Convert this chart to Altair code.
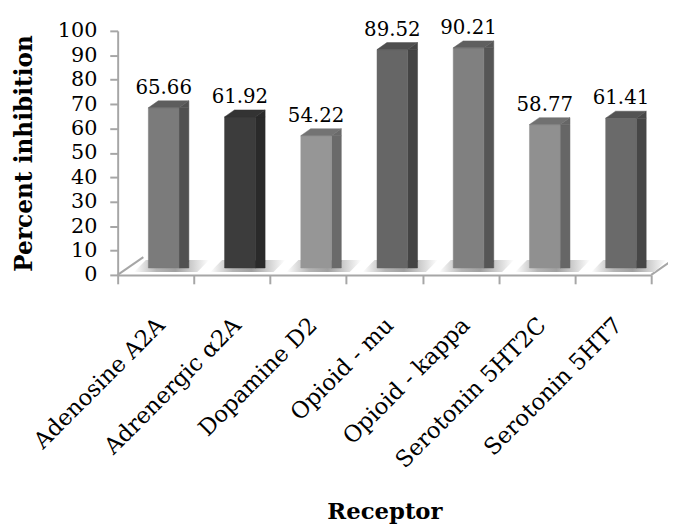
import altair as alt
import pandas as pd

receptors = ["Adenosine A2A", "Adrenergic α2A", "Dopamine D2", "Opioid - mu",
             "Opioid - kappa", "Serotonin 5HT2C", "Serotonin 5HT7"]
inhibition = [65.66, 61.92, 54.22, 89.52, 90.21, 58.77, 61.41]
y_ticks = [0, 10, 20, 30, 40, 50, 60, 70, 80, 90, 100]

front_colors = ["#7b7b7b", "#3c3c3c", "#969696", "#666666", "#808080", "#909090", "#6a6a6a"]
side_colors = ["#515151", "#2a2a2a", "#6a6a6a", "#444444", "#565656", "#666666", "#474747"]
top_colors = ["#5d5d5d", "#333333", "#737373", "#4f4f4f", "#5f5f5f", "#717171", "#535353"]

df = pd.DataFrame({"Receptor": receptors, "Inhibition": inhibition})

FONT = "DejaVu Serif"
AXIS_GRAY = "#a6a6a6"

x_axis = alt.Axis(
    title="Receptor", titleFont=FONT, titleFontSize=23, titleFontWeight="bold",
    titleColor="black", titleY=240, titleBaseline="middle",
    labelFont=FONT, labelFontSize=23, labelColor="black",
    labelAngle=315, labelAlign="right", labelBaseline="middle",
    labelPadding=38, labelOffset=5, labelOverlap=False, labelLimit=400,
    tickBand="extent", tickSize=9, tickWidth=2, tickColor=AXIS_GRAY,
    domainColor=AXIS_GRAY, domainWidth=2, grid=False,
)
y_axis = alt.Axis(
    title="Percent inhibition", titleFont=FONT, titleFontSize=23.5, titleFontWeight="bold",
    titleColor="black", titleAngle=270, titleX=-94, titleY=123.5,
    titleAlign="center", titleBaseline="middle",
    values=y_ticks, tickCount=11, labelFont=FONT, labelFontSize=21, labelColor="black",
    labelOverlap=False, labelPadding=13, tickSize=8, tickWidth=2, tickColor=AXIS_GRAY,
    domainColor=AXIS_GRAY, domainWidth=2, grid=False,
)
y_scale = alt.Scale(domain=[0, 100], nice=False, zero=True)

x_enc = alt.X("Receptor:N", sort=receptors,
              scale=alt.Scale(paddingInner=0, paddingOuter=0), axis=x_axis)
y_enc = alt.Y("Inhibition:Q", scale=y_scale, axis=y_axis)
y_zero = alt.YDatum(0, type="quantitative", scale=y_scale, axis=y_axis)
y2_zero = alt.Y2Datum(0)


def cscale(rng):
    return alt.Scale(domain=receptors, range=rng)


def paint(rng):
    return dict(
        fill=alt.Fill("Receptor:N", scale=cscale(rng), legend=None),
        stroke=alt.Stroke("Receptor:N", scale=cscale(rng), legend=None),
    )


base = alt.Chart(df)

shadow = base.mark_point(
    shape="M-22,-3L42,-3L54,-15L-10,-15Z", size=4, filled=True, opacity=1, strokeWidth=0,
    fill=alt.LinearGradient(
        gradient="linear", x1=0, x2=1, y1=0, y2=0,
        stops=[alt.GradientStop(color="#ffffff", offset=0),
               alt.GradientStop(color="#b5b5b5", offset=0.3),
               alt.GradientStop(color="#a0a0a0", offset=0.55),
               alt.GradientStop(color="#ffffff", offset=1)]),
).encode(x=x_enc, y=y_zero)

front = base.mark_bar(width=31, xOffset=8, yOffset=-7, y2Offset=-7, strokeWidth=0.5).encode(
    x=x_enc, y=y_enc, **paint(front_colors))

side_rect = base.mark_bar(width=10, xOffset=28.5, yOffset=-7, y2Offset=-14, strokeWidth=0.5).encode(
    x=x_enc, y=y_enc, **paint(side_colors))

side_top = base.mark_point(shape="M23.5,-7L33.5,-14L33.5,-7Z", size=4, filled=True,
                           opacity=1, strokeWidth=0.5).encode(
    x=x_enc, y=y_enc, **paint(side_colors))

side_bottom = base.mark_point(shape="M23.5,-14L33.5,-14L23.5,-7Z", size=4, filled=True,
                              opacity=1, strokeWidth=0.5).encode(
    x=x_enc, y=y_zero, **paint(side_colors))

top_face = base.mark_point(shape="M-7.5,-7L23.5,-7L33.5,-14L2.5,-14Z", size=4, filled=True,
                           opacity=1, strokeWidth=0.5).encode(
    x=x_enc, y=y_enc, **paint(top_colors))

labels = base.mark_text(font=FONT, fontSize=20, dx=8, dy=-21, baseline="alphabetic",
                        color="black").encode(
    x=x_enc, y=y_enc, text=alt.Text("Inhibition:Q", format=".2f"))

floor_left = alt.Chart(pd.DataFrame({"edge": ["left"]})).mark_rule(
    color=AXIS_GRAY, strokeWidth=2, y2Offset=-18).encode(
    x=alt.value(0), x2=alt.value(26), y=y_zero, y2=y2_zero)
floor_right = alt.Chart(pd.DataFrame({"edge": ["right"]})).mark_rule(
    color=AXIS_GRAY, strokeWidth=2, y2Offset=-18).encode(
    x=alt.value(540), x2=alt.value(566), y=y_zero, y2=y2_zero)

chart = alt.layer(
    floor_left, floor_right, shadow, side_bottom, side_rect, side_top, front, top_face, labels
).resolve_scale(
    fill="independent", stroke="independent"
).properties(
    width=540, height=247, autosize="none",
    padding={"left": 111, "top": 20, "right": 17, "bottom": 252},
).configure_view(stroke=None)

chart.save("out.html", embed_options={"renderer": "svg", "actions": False})
